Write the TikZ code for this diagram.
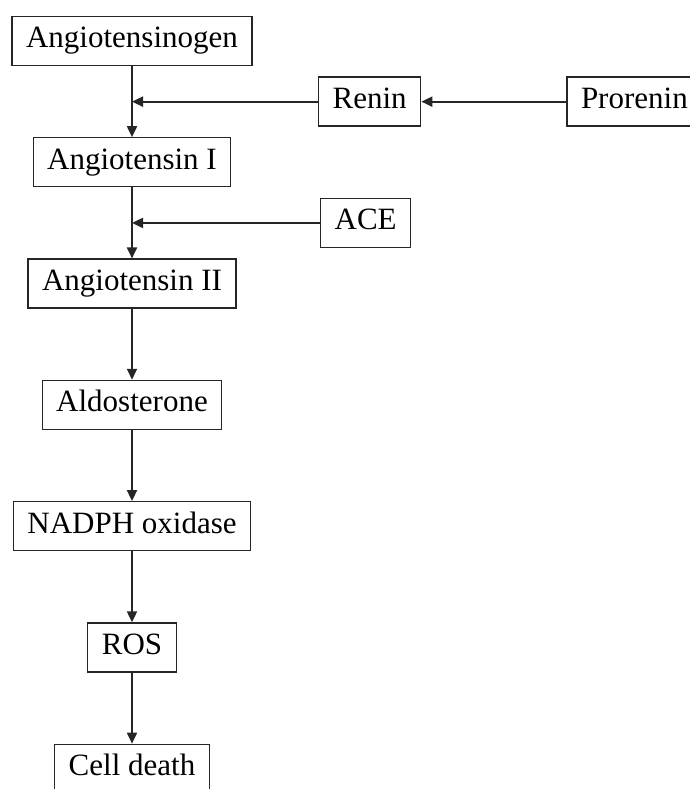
\documentclass[tikz,border=0pt]{standalone}
\usepackage{fontspec}
\setmainfont{Liberation Serif}
\usetikzlibrary{positioning,arrows.meta}

\begin{document}
\begin{tikzpicture}[x=1pt, y=-1pt, node distance = 71pt]
            \tikzstyle{state} = [rectangle, draw=black!85, line width=1.3pt, inner xsep=14pt, inner ysep=0pt, minimum height=49pt, text height=21pt, text depth=7pt, font=\fontsize{31pt}{36pt}\selectfont];
            \tikzstyle{flow} = [line width=1.9pt, draw=black!85, -{Triangle[length=11pt, width=10pt]}];
            \useasboundingbox (0,0) rectangle (690,789);

            \node [state] (S0) at (132,41) {Angiotensinogen};
            \node [state, below = of S0] (S1) {Angiotensin I};
            \node [state, below = of S1] (S2) {Angiotensin II};
            \node [state, below = of S2] (S3) {Aldosterone};
            \node [state, below = of S3] (S4) {NADPH oxidase};
            \node [state, below = of S4] (S5) {ROS};
            \node [state, below = of S5] (S6) {Cell death};

            \path (S0) -- coordinate (M1) (S1);
            \path (S1) -- coordinate (M2) (S2);

            \node [state, right = 186pt of M1] (S7) {Renin};
            \node [state, right = 145pt of S7] (S8) {Prorenin};
            \node [state, right = 188pt of M2] (S9) {ACE};

            \draw [flow] (S8) to (S7);
            \draw [flow] (S7) to (M1);
            \draw [flow] (S9) to (M2);
            \foreach \i/\j in {0/1, 1/2, 2/3, 3/4, 4/5, 5/6}
                \draw [flow] (S\i) to (S\j);
        \end{tikzpicture}
\end{document}
